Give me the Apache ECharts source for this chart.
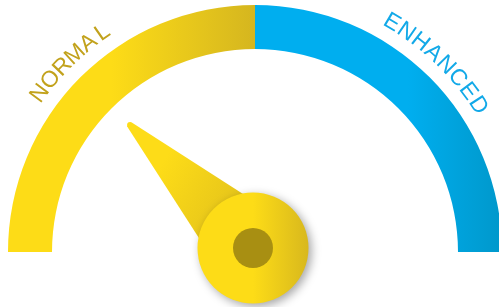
<!DOCTYPE html>
<html>
<head>
<meta charset="utf-8">
<script src="https://cdn.jsdelivr.net/npm/echarts@6/dist/echarts.min.js"></script>
<style>html,body{margin:0;padding:0;background:#fff;}#main{width:499px;height:307px;}</style>
</head>
<body>
<div id="main"></div>
<script>
// ---- data ----
var gaugeMin = 0;
var gaugeMax = 100;
var zoneSplits = [0.5, 1];
var zoneNames = ['NORMAL', 'ENHANCED'];
var pointerValue = [25];

// ---- layout ----
var CX = 255, CY = 252, R = 247, BAND = 44;
var PCX = 253, PCY = 248;
var LABEL_R = 267;
var labelArcs = [[143.6, 124.8], [59.2, 33.3]];
var labelColors = ['#C2A21C', '#12A9E8'];

var chart = echarts.init(document.getElementById('main'), null, {renderer: 'canvas'});

function lg(x, y, x2, y2, stops) {
  return new echarts.graphic.LinearGradient(x, y, x2, y2, stops.map(function (s) { return {offset: s[0], color: s[1]}; }));
}

var yellowGrad = lg(0, 0, 1, 0, [[0, '#FDDC17'], [0.42, '#FDDC17'], [1, '#D5B61F']]);
var blueGrad = lg(0, 0, 1, 0, [[0, '#00AEEF'], [0.62, '#00AEEF'], [1, '#0098CB']]);

var graphics = [];
zoneNames.forEach(function (name, zi) {
  var letters = name.split('');
  var a0 = labelArcs[zi][0], a1 = labelArcs[zi][1];
  letters.forEach(function (ch, i) {
    var a = letters.length > 1 ? a0 + (a1 - a0) * i / (letters.length - 1) : a0;
    var rad = a * Math.PI / 180;
    graphics.push({
      type: 'text',
      x: CX + LABEL_R * Math.cos(rad),
      y: CY - LABEL_R * Math.sin(rad),
      rotation: (a - 90) * Math.PI / 180,
      style: {
        text: ch,
        fill: labelColors[zi],
        font: '23px "Liberation Sans", Arial, sans-serif',
        align: 'center',
        verticalAlign: 'middle'
      }
    });
  });
});

var option = {
  backgroundColor: '#ffffff',
  animation: false,
  graphic: graphics,
  series: [
    {
      type: 'gauge',
      center: [CX, CY],
      radius: R,
      min: gaugeMin,
      max: gaugeMax,
      startAngle: 180,
      endAngle: 0,
      axisLine: {
        lineStyle: {
          width: BAND,
          color: [[zoneSplits[0], yellowGrad], [zoneSplits[1], blueGrad]]
        }
      },
      axisTick: {show: false},
      splitLine: {show: false},
      axisLabel: {show: false},
      pointer: {show: false},
      anchor: {show: false},
      title: {show: false},
      detail: {show: false},
      data: []
    },
    {
      type: 'gauge',
      center: [PCX, PCY],
      radius: R,
      min: gaugeMin,
      max: gaugeMax,
      startAngle: 180,
      endAngle: 0,
      axisLine: {show: false},
      axisTick: {show: false},
      splitLine: {show: false},
      axisLabel: {show: false},
      pointer: {
        show: true,
        icon: 'path://M38,2 Q41,-2 44,2 L82,175 L0,175 Z',
        width: 82,
        length: 177,
        keepAspect: false,
        itemStyle: {
          color: lg(0, 0.35, 0.35, 1, [[0, '#FDDC18'], [1, '#DDBC1B']])
        }
      },
      anchor: {
        show: true,
        showAbove: true,
        size: 111,
        itemStyle: {
          color: lg(0, 0, 1, 0, [[0, '#FDDC17'], [0.5, '#FDDC17'], [1, '#D8B81D']]),
          shadowColor: 'rgba(0,0,0,0.35)',
          shadowBlur: 10,
          shadowOffsetX: 3,
          shadowOffsetY: 3
        }
      },
      title: {show: false},
      detail: {show: false},
      data: pointerValue.map(function (v) { return {value: v}; })
    },
    {
      type: 'gauge',
      center: [PCX, PCY],
      radius: R,
      min: gaugeMin,
      max: gaugeMax,
      startAngle: 180,
      endAngle: 0,
      axisLine: {show: false},
      axisTick: {show: false},
      splitLine: {show: false},
      axisLabel: {show: false},
      pointer: {show: false},
      anchor: {
        show: true,
        showAbove: true,
        size: 40,
        itemStyle: {color: '#A88F12'}
      },
      title: {show: false},
      detail: {show: false},
      data: pointerValue.map(function (v) { return {value: v}; })
    }
  ]
};
chart.setOption(option);
</script>
</body>
</html>
